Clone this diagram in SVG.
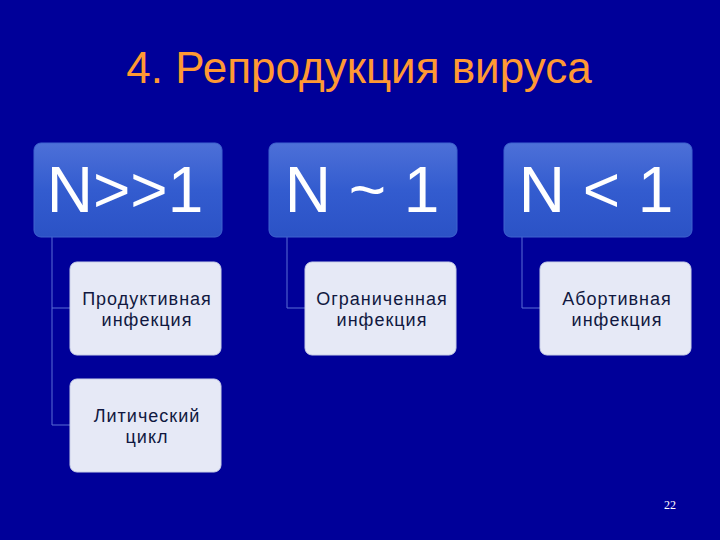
<svg xmlns="http://www.w3.org/2000/svg" width="720" height="540" viewBox="0 0 720 540">
<defs>
<linearGradient id="hg" x1="0" y1="0" x2="0" y2="1">
<stop offset="0" stop-color="#4d70d8"/>
<stop offset="0.5" stop-color="#335ccf"/>
<stop offset="1" stop-color="#2b52c6"/>
</linearGradient>
<style>
.hdr{fill:url(#hg);stroke:#3f63cf;stroke-width:1}
.hdt{font-family:"Liberation Sans",Arial,sans-serif;font-size:64px;fill:#ffffff;text-anchor:middle}
.chd{fill:#e6e9f6;stroke:#c9cfe8;stroke-width:1}
.cht{font-family:"Liberation Sans",Arial,sans-serif;font-size:18px;letter-spacing:1px;fill:#101840;text-anchor:middle}
.con{stroke:#5b6fd4;stroke-width:1;fill:none}
</style>
</defs>
<rect width="720" height="540" fill="#000099"/>
<text x="359" y="83" font-family="'Liberation Sans',Arial,sans-serif" font-size="44" fill="#ff9933" text-anchor="middle">4. Репродукция вируса</text>
<g id="connectors">
<path class="con" d="M52,237 V425 H70 M52,308 H70"/>
<path class="con" d="M287,237 V308 H305"/>
<path class="con" d="M522,237 V308 H540"/>
</g>
<g id="h1"><rect class="hdr" x="34" y="143" width="188" height="94" rx="7"/><text class="hdt" x="125" y="212">N&gt;&gt;1</text></g>
<g id="h2"><rect class="hdr" x="269" y="143" width="188" height="94" rx="7"/><text class="hdt" x="362" y="212">N ~ 1</text></g>
<g id="h3"><rect class="hdr" x="504" y="143" width="188" height="94" rx="7"/><text class="hdt" x="596" y="212">N &lt; 1</text></g>
<g id="c1"><rect class="chd" x="70" y="262" width="151" height="93" rx="7"/><text class="cht" x="147" y="305">Продуктивная<tspan x="147" dy="21">инфекция</tspan></text></g>
<g id="c2"><rect class="chd" x="70" y="379" width="151" height="93" rx="7"/><text class="cht" x="147" y="422">Литический<tspan x="147" dy="21">цикл</tspan></text></g>
<g id="c3"><rect class="chd" x="305" y="262" width="151" height="93" rx="7"/><text class="cht" x="382" y="305">Ограниченная<tspan x="382" dy="21">инфекция</tspan></text></g>
<g id="c4"><rect class="chd" x="540" y="262" width="151" height="93" rx="7"/><text class="cht" x="617" y="305">Абортивная<tspan x="617" dy="21">инфекция</tspan></text></g>
<text x="670" y="509" font-family="'Liberation Serif','Times New Roman',serif" font-size="12" fill="#ffffff" text-anchor="middle">22</text>
</svg>
